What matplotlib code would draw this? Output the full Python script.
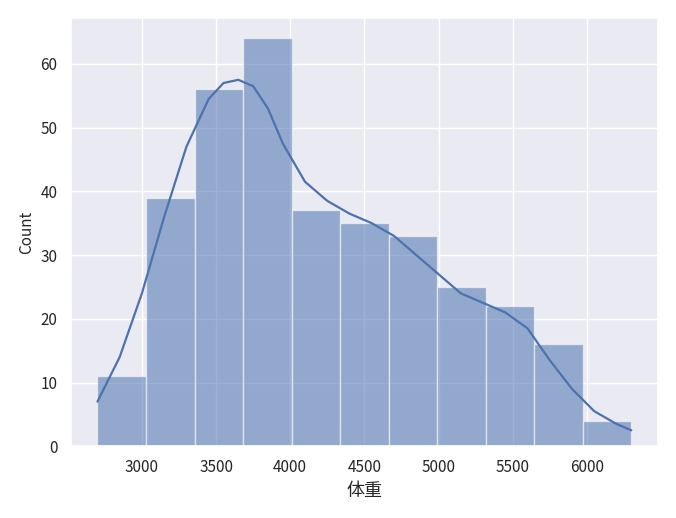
import matplotlib
matplotlib.use('Agg')
import matplotlib.pyplot as plt
import seaborn as sns

sns.set_theme()
plt.rcParams['font.family'] = ['Noto Sans CJK SC', 'DejaVu Sans']
plt.rcParams['axes.unicode_minus'] = False

# histogram bins and counts
bin_edges = [2700, 3027, 3355, 3682, 4009, 4336, 4664, 4991, 5318, 5645, 5973, 6300]
counts = [11, 39, 56, 64, 37, 35, 33, 25, 22, 16, 4]

# kde curve points
kde_x = [2700, 2850, 3000, 3150, 3300, 3450, 3550, 3650, 3750, 3850, 3950, 4100,
         4250, 4400, 4550, 4700, 4850, 5000, 5150, 5300, 5450, 5600, 5750, 5900,
         6050, 6200, 6300]
kde_y = [7, 14, 24, 36, 47, 54.5, 57, 57.5, 56.5, 53, 47.5, 41.5,
         38.5, 36.5, 35, 33, 30, 27, 24, 22.5, 21, 18.5, 13.5, 9,
         5.5, 3.5, 2.5]

color = sns.color_palette()[0]

fig, ax = plt.subplots(figsize=(6.76, 5.18), dpi=100)
widths = [bin_edges[i + 1] - bin_edges[i] for i in range(len(counts))]
ax.bar(bin_edges[:-1], counts, width=widths, align='edge',
       color=color, alpha=0.55, edgecolor='white', linewidth=1)
ax.plot(kde_x, kde_y, color=color, linewidth=1.6)

ax.set_xlabel('体重', fontsize=13)
ax.set_ylabel('Count', fontsize=11)
ax.set_xlim(2520, 6480)
plt.tight_layout()
plt.savefig('out.png')
